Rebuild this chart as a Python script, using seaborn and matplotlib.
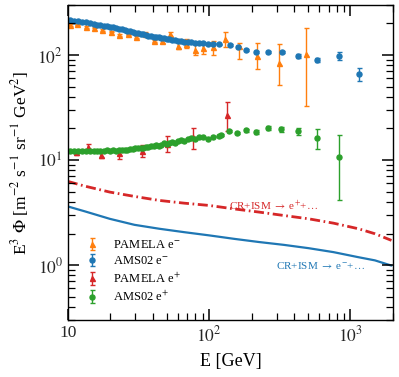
import matplotlib
matplotlib.use("Agg")
import matplotlib.pyplot as plt
import numpy as np
import seaborn as sns

# AMS02 electrons (dense low-energy bins + sparse high-energy bins)
ams_em_E = [10.3, 11.0, 11.8, 12.6, 13.4, 14.3, 15.2, 16.1, 17.0, 17.9, 18.9, 19.9,
            20.9, 22.0, 23.0, 24.1, 25.3, 26.4, 27.6, 28.9, 30.1, 31.4, 32.8, 34.2,
            35.7, 37.2, 38.8, 40.4, 42.1, 44.0, 45.9, 47.9, 50.1, 52.3, 54.8, 57.4,
            60.3, 63.4, 66.8, 70.5, 74.7, 79.4, 84.8, 90.9, 98.1, 106.6, 117.0,
            141, 160, 182, 214, 260, 327, 424, 576, 823, 1156]
ams_em_F = [214, 212, 210, 207, 204, 201, 198, 195, 193, 190, 188, 186,
            183, 180, 177, 175, 172, 170, 168, 165, 163, 161, 159, 157,
            155, 153, 152, 150, 148, 147, 145, 144, 142, 141, 140, 139,
            137, 136, 134, 133, 132, 131, 130, 129, 128, 128, 127,
            125, 119, 112, 107, 107, 107, 98, 90, 98, 66]
ams_em_err = [1.5] * 47 + [2, 2, 2, 3, 3, 3, 4, 4, 8, 10]

# AMS02 positrons
ams_ep_E = ams_em_E[:47] + [121, 138, 158, 182, 214, 260, 323, 424, 576, 823]
ams_ep_F = [12.3, 12.3, 12.2, 12.3, 12.2, 12.1, 12.2, 12.1, 12.2, 12.3, 12.4, 12.3,
            12.4, 12.3, 12.4, 12.5, 12.6, 12.5, 12.7, 12.8, 12.9, 12.9, 13.0, 13.1,
            13.2, 13.4, 13.5, 13.6, 13.8, 13.7, 14.0, 14.4, 14.3, 14.6, 14.9, 14.7,
            15.2, 15.5, 15.3, 15.8, 16.1, 15.9, 16.5, 16.6, 16.0, 16.7, 16.9,
            17.3, 18.9, 18.1, 19.3, 18.5, 20.2, 19.7, 18.9, 16.2, 10.7]
ams_ep_lo = [0.1] * 47 + [0.3, 0.4, 0.5, 0.6, 0.7, 0.9, 1.1, 1.4, 3.5, 6.5]
ams_ep_hi = [0.1] * 47 + [0.3, 0.4, 0.5, 0.6, 0.7, 0.9, 1.1, 1.4, 3.5, 6.6]

# PAMELA electrons
pam_em_E = [10.3, 11.6, 13.4, 15.3, 17.5, 20.1, 23.2, 26.6, 30.5, 34.9, 40.4, 46.2,
            53.0, 60.5, 69.0, 80.0, 91.0, 106, 130, 163, 218, 310, 484]
pam_em_F = [193, 196, 185, 182, 173, 167, 155, 157, 148, 157, 136, 136,
            157, 122, 128, 112, 116, 118, 142, 122, 98, 84, 102]
pam_em_lo = [3, 3, 3, 3, 3, 3, 3, 3, 4, 5, 4, 5, 9, 9, 12, 13, 13, 17, 23, 30, 24, 32, 69]
pam_em_hi = [3, 3, 3, 3, 3, 3, 3, 3, 4, 7, 4, 5, 9, 9, 14, 15, 14, 19, 24, 8, 32, 43, 79]

# PAMELA positrons
pam_ep_E = [11.4, 13.8, 17.1, 23.2, 33.7, 50.5, 77.0, 134]
pam_ep_F = [11.9, 13.3, 11.1, 11.6, 12.2, 14.3, 16.5, 26.6]
pam_ep_lo = [0.7, 0.8, 0.6, 1.3, 1.5, 2.4, 3.7, 7.5]
pam_ep_hi = [0.6, 1.0, 0.8, 1.2, 1.6, 2.5, 3.8, 9.0]

# secondary production models (CR+ISM)
model_E = [10, 13.2, 19.8, 29.6, 44.4, 66.6, 100, 150, 225, 337, 506, 758, 1138, 1490, 1950]
model_pos = [6.27, 5.65, 4.96, 4.51, 4.13, 3.89, 3.70, 3.43, 3.20, 2.97, 2.76, 2.51, 2.22, 1.99, 1.72]
model_ele = [3.62, 3.25, 2.76, 2.42, 2.22, 2.06, 1.92, 1.78, 1.66, 1.56, 1.45, 1.33, 1.19, 1.11, 0.99]

sns.set_style("ticks")
plt.rcParams["font.family"] = ["Liberation Serif", "DejaVu Serif"]
plt.rcParams["mathtext.fontset"] = "stix"
plt.rcParams["text.color"] = "black"
plt.rcParams["axes.labelcolor"] = "black"
plt.rcParams["axes.axisbelow"] = False

c_or, c_bl, c_rd, c_gr = "#ff7f0e", "#1f77b4", "#d62728", "#2ca02c"

fig = plt.figure(figsize=(3.99, 3.77), dpi=100)
ax = fig.add_axes([0.170, 0.151, 0.815, 0.836])

sns.lineplot(x=model_E, y=model_pos, ax=ax, color=c_rd, lw=2, ls=(0, (3.6, 1.3, 0.6, 1.3)), legend=False)
sns.lineplot(x=model_E, y=model_ele, ax=ax, color=c_bl, lw=1.6, legend=False)

eb = dict(ls="none", ms=3.6, capsize=1.8, elinewidth=1, capthick=1)
ax.errorbar(pam_em_E, pam_em_F, yerr=[pam_em_lo, pam_em_hi], fmt="^", color=c_or, label="PAMELA e$^{-}$", **eb)
ax.errorbar(ams_em_E, ams_em_F, yerr=ams_em_err, fmt="o", color=c_bl, label="AMS02 e$^{-}$", **eb)
ax.errorbar(pam_ep_E, pam_ep_F, yerr=[pam_ep_lo, pam_ep_hi], fmt="^", color=c_rd, label="PAMELA e$^{+}$", **eb)
ax.errorbar(ams_ep_E, ams_ep_F, yerr=[ams_ep_lo, ams_ep_hi], fmt="o", color=c_gr, label="AMS02 e$^{+}$", **eb)

ax.text(138, 3.65, r"CR+ISM $\rightarrow$ e$^{+}$+$\ldots$", color=c_rd, fontsize=8, va="center")
ax.text(296, 1.0, r"CR+ISM $\rightarrow$ e$^{-}$+$\ldots$", color=c_bl, fontsize=8, va="center")

ax.set_xscale("log")
ax.set_yscale("log")
ax.set_xticks([10, 100, 1000])
ax.set_xticklabels(["10", "$10^2$", "$10^3$"])
ax.set_yticks([1, 10, 100])
ax.set_yticklabels(["$10^0$", "$10^1$", "$10^2$"])
minor_x = [m * 10.0**k for k in range(1, 4) for m in range(2, 10)]
minor_y = [m * 10.0**k for k in range(-1, 3) for m in range(2, 10)]
ax.set_xticks(minor_x, minor=True)
ax.set_yticks(minor_y, minor=True)
ax.set_xticklabels([], minor=True)
ax.set_yticklabels([], minor=True)
ax.set_xlim(10, 2000)
ax.set_ylim(0.3, 300)
ax.tick_params(which="both", direction="in", top=True, right=True, bottom=True, left=True,
               color="black", zorder=5)
ax.tick_params(which="major", length=8, width=1.1, labelsize=12.5)
ax.tick_params(which="minor", length=5, width=0.9)
for s in ax.spines.values():
    s.set_linewidth(1)
    s.set_color("black")

ax.set_xlabel("E [GeV]", fontsize=13, labelpad=6)
ax.set_ylabel(r"E$^3$ $\Phi$ [m$^{-2}$ s$^{-1}$ sr$^{-1}$ GeV$^2$]", fontsize=12.5, labelpad=5)

ax.legend(loc="lower left", bbox_to_anchor=(0.02, 0.015), frameon=False, fontsize=9,
          handlelength=1.1, handletextpad=1.1, labelspacing=0.32)

fig.savefig("out.png", dpi=100)
